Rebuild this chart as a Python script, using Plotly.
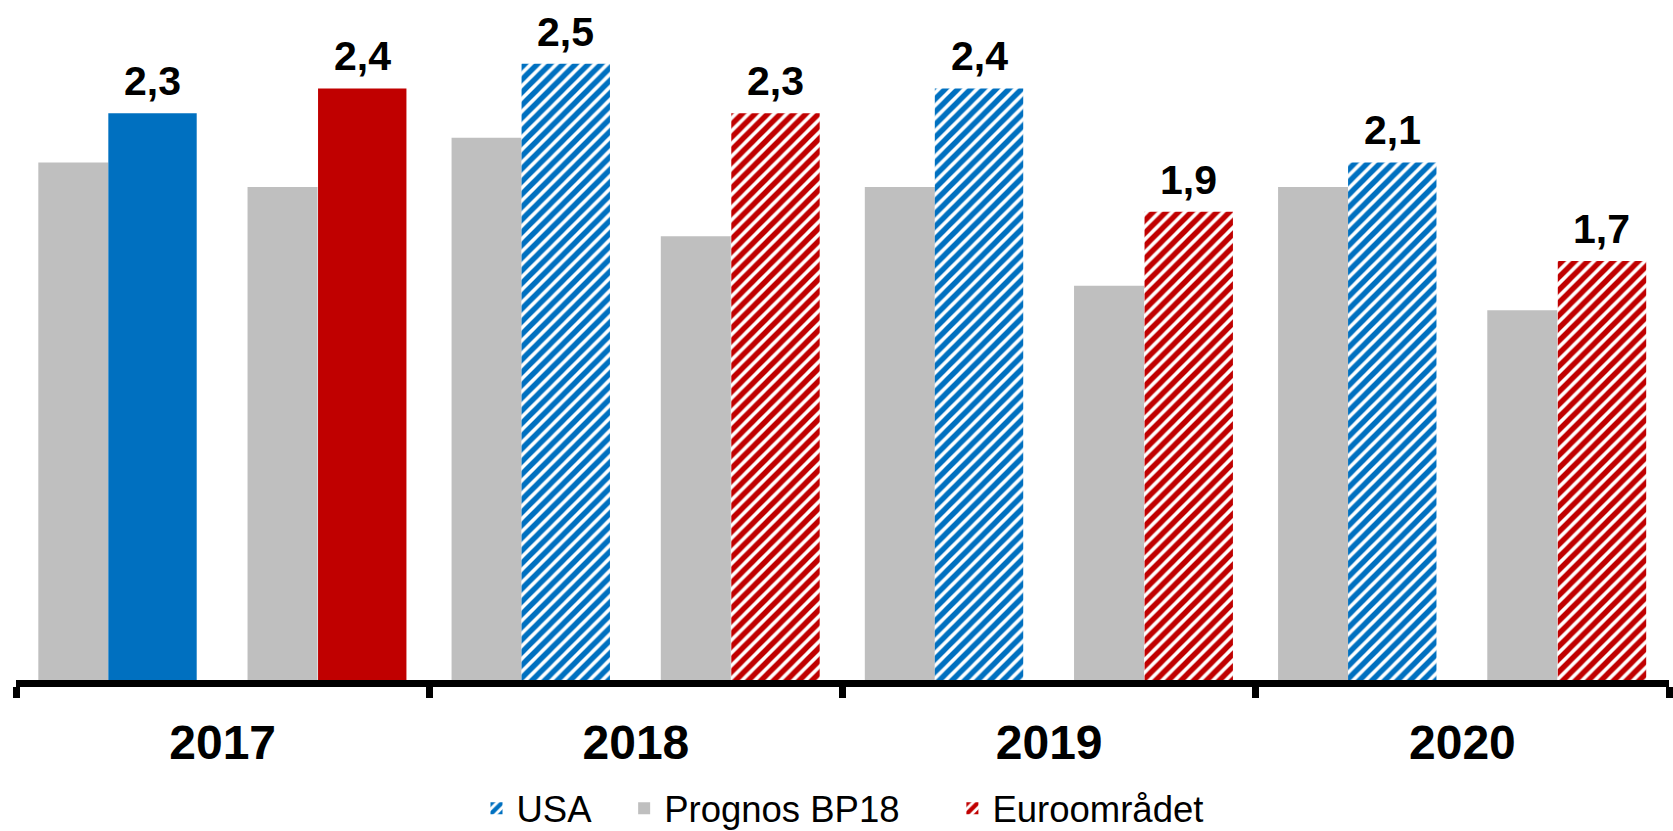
import plotly.graph_objects as go

years = ["2017", "2018", "2019", "2020"]
usa = [2.3, 2.5, 2.4, 2.1]
euro = [2.4, 2.3, 1.9, 1.7]
prognos_usa = [2.1, 2.2, 2.0, 2.0]
prognos_euro = [2.0, 1.8, 1.6, 1.5]

BLUE = "#0070C0"
RED = "#C00000"
GREY = "#BFBFBF"
FONT = "Liberation Sans, Arial, sans-serif"
PAD_USA = "\u00a0\u00a0\u2009"
PAD_PROG = "\u00a0\u00a0\u00a0\u00a0\u2009"

# layout geometry (category units)
OFF_G1, W_G = -0.446, 0.1694
OFF_U, W_C = -0.2766, 0.2139
OFF_G2 = 0.0603
OFF_E = 0.2309

fig = go.Figure()

def hatch(color):
    return dict(shape="/", fgcolor=color, bgcolor="white", size=9, solidity=0.6, fgopacity=1)

fig.add_trace(go.Bar(x=years, y=prognos_usa, name="Prognos BP18" + PAD_PROG, offset=OFF_G1, width=W_G,
                     marker=dict(color=GREY, line=dict(width=0)), legendrank=2))
fig.add_trace(go.Bar(x=years, y=prognos_euro, name="Prognos BP18", offset=OFF_G2, width=W_G,
                     marker=dict(color=GREY, line=dict(width=0)), showlegend=False))
fig.add_trace(go.Bar(x=years[:1], y=usa[:1], name="USA", offset=OFF_U, width=W_C,
                     marker=dict(color=BLUE, line=dict(width=0)), showlegend=False))
fig.add_trace(go.Bar(x=years[1:], y=usa[1:], name="USA" + PAD_USA, offset=OFF_U, width=W_C,
                     marker=dict(color=BLUE, line=dict(width=0), pattern=hatch(BLUE)), legendrank=1))
fig.add_trace(go.Bar(x=years[:1], y=euro[:1], name="Euroområdet", offset=OFF_E, width=W_C,
                     marker=dict(color=RED, line=dict(width=0)), showlegend=False))
fig.add_trace(go.Bar(x=years[1:], y=euro[1:], name="Euroområdet", offset=OFF_E, width=W_C,
                     marker=dict(color=RED, line=dict(width=0), pattern=hatch(RED)), legendrank=3))

def fmt(v):
    return f"{v:.1f}".replace(".", ",")

annotations = []
for i, (u, e) in enumerate(zip(usa, euro)):
    for val, off in ((u, OFF_U), (e, OFF_E)):
        annotations.append(dict(x=i + off + W_C / 2, y=val, xref="x", yref="y",
                                text=fmt(val), showarrow=False, yanchor="bottom",
                                yshift=7, font=dict(family=FONT, size=41, color="black",
                                                     weight="bold")))

fig.update_layout(
    width=1673, height=831,
    margin=dict(l=16, r=4, t=0, b=151, autoexpand=False),
    paper_bgcolor="white", plot_bgcolor="white",
    barmode="overlay",
    annotations=annotations,
    showlegend=True,
    legend=dict(orientation="h", x=0.5, xanchor="center", y=-0.189, yanchor="middle",
                font=dict(family=FONT, size=36.5, color="black"), itemclick=False,
                traceorder="normal"),
    xaxis=dict(type="category", categoryorder="array", categoryarray=years,
               range=[-0.5, 3.5], tickson="boundaries", ticks="outside", ticklen=11,
               tickwidth=7, tickcolor="black", showline=True, linewidth=7, linecolor="black",
               showgrid=False, ticklabelstandoff=14, automargin=False,
               tickfont=dict(family=FONT, size=48, color="black", weight="bold")),
    yaxis=dict(range=[0, 2.759], visible=False, showgrid=False, zeroline=False,
               automargin=False),
)

fig.write_html("out.html", config={"displayModeBar": False},
               post_script="document.body.style.margin='0';document.body.style.padding='0';")
